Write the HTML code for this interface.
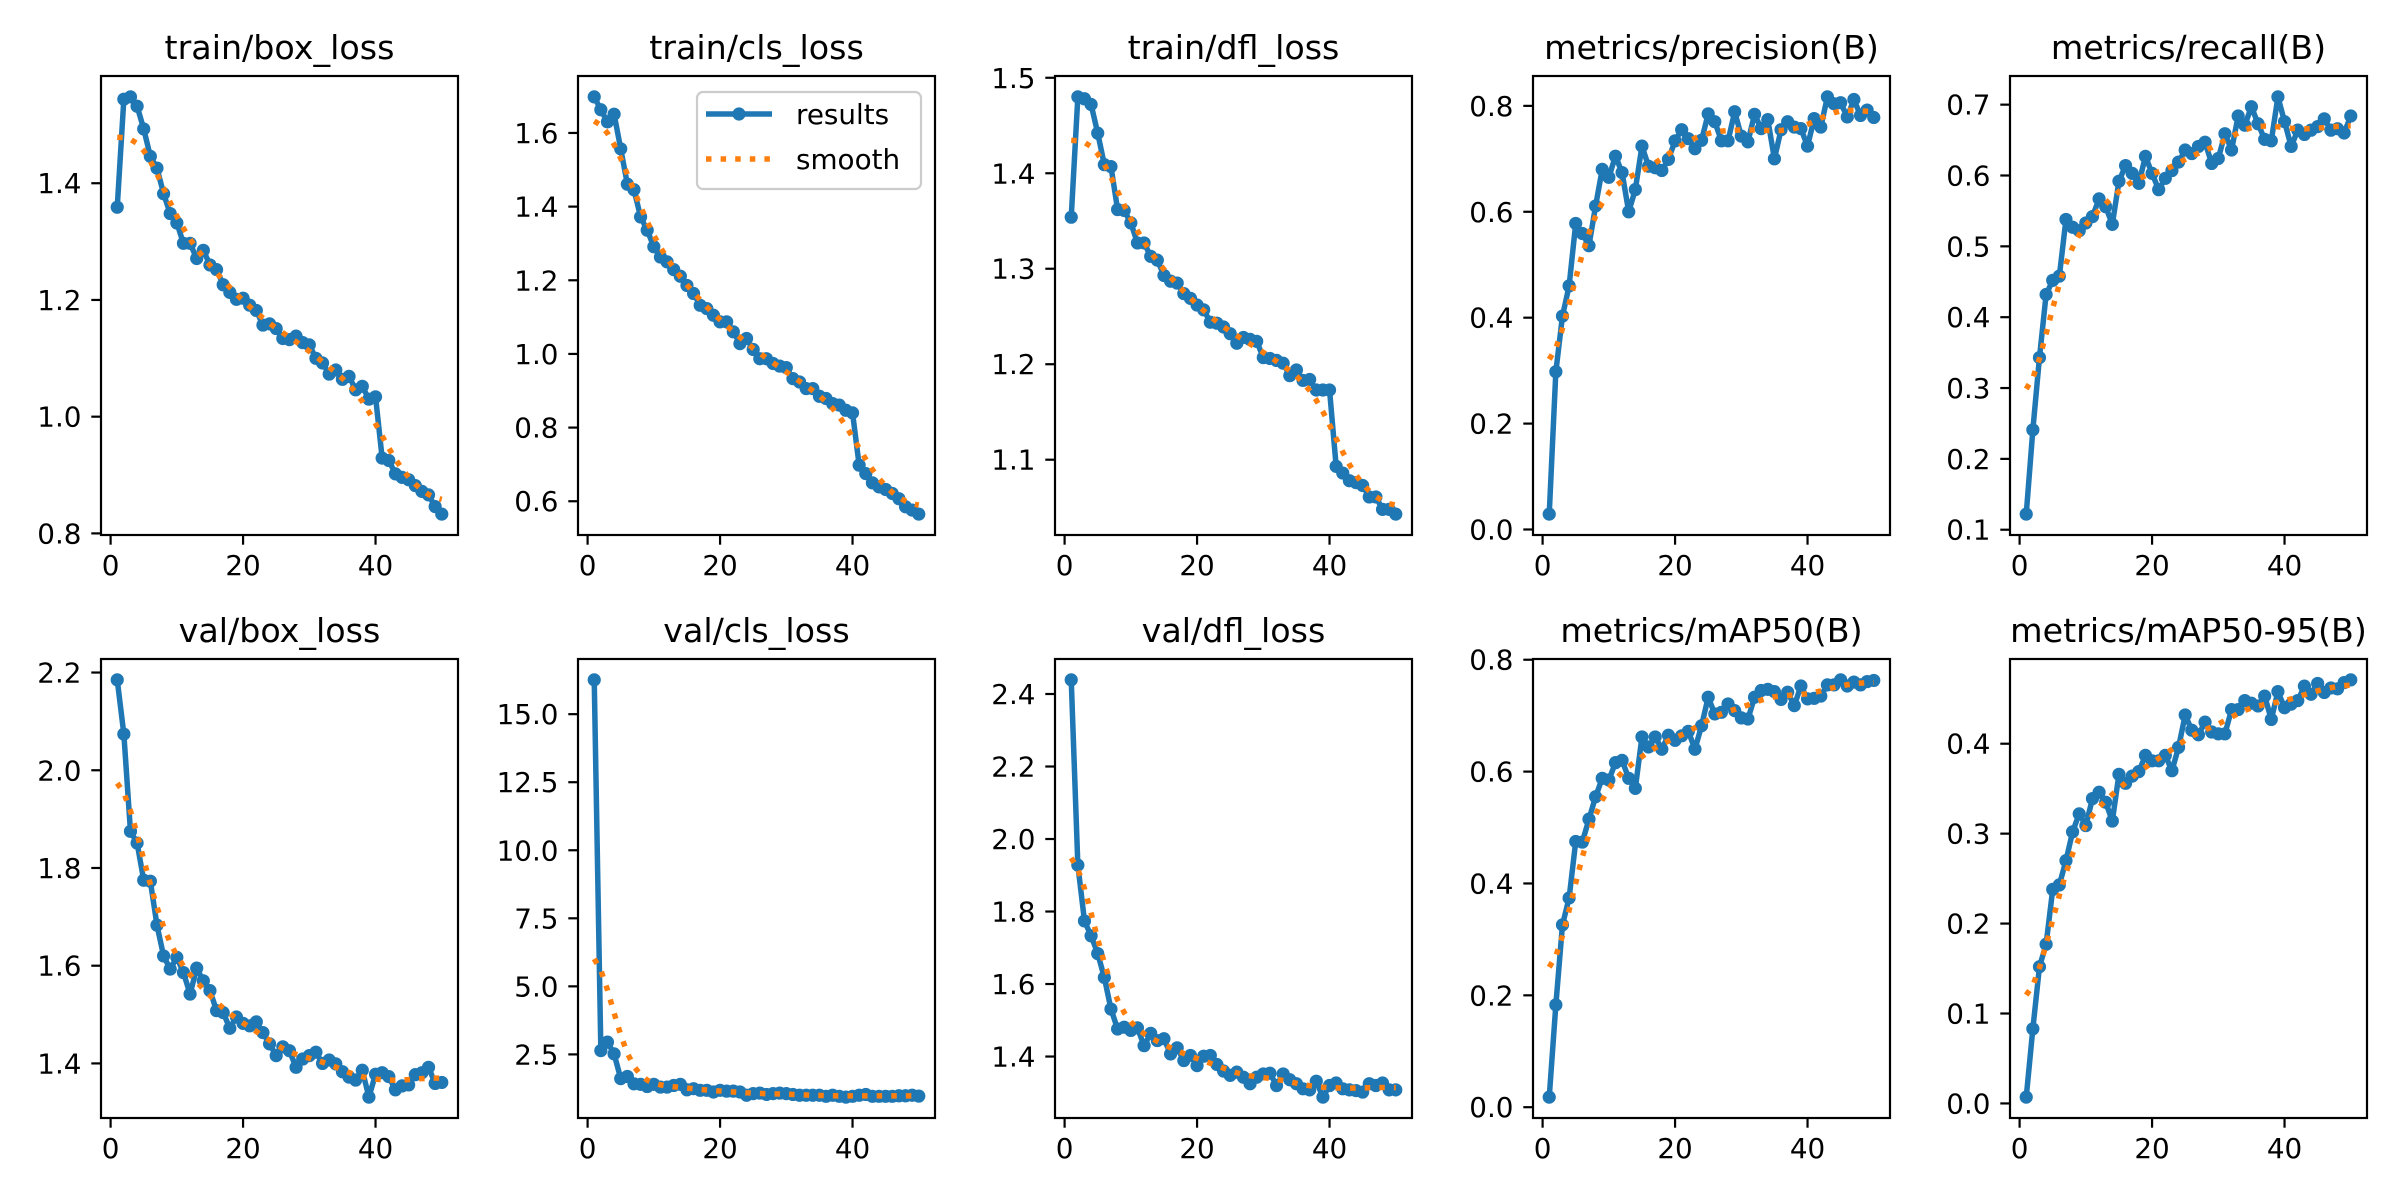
<!DOCTYPE html>
<html><head><meta charset="utf-8">
<style>
html,body{margin:0;padding:0;background:#fff;}
svg{display:block;}
text{font-family:"DejaVu Sans","Liberation Sans",sans-serif;fill:#000;}
</style></head>
<body>
<svg id="fig" xmlns="http://www.w3.org/2000/svg" width="2400" height="1200" viewBox="0 0 2400 1200">
<rect x="0" y="0" width="2400" height="1200" fill="#fff"/>
</svg>
<script>
const panelTitles = ["train/box_loss","train/cls_loss","train/dfl_loss","metrics/precision(B)","metrics/recall(B)","val/box_loss","val/cls_loss","val/dfl_loss","metrics/mAP50(B)","metrics/mAP50-95(B)"];
const xTickValues = [0,20,40];
const trainBoxLoss = [1.359,1.544,1.548,1.532,1.493,1.446,1.426,1.382,1.348,1.332,1.297,1.297,1.271,1.285,1.260,1.252,1.226,1.213,1.201,1.203,1.191,1.182,1.157,1.159,1.151,1.134,1.132,1.138,1.127,1.123,1.100,1.092,1.073,1.080,1.064,1.069,1.046,1.052,1.030,1.034,0.929,0.925,0.902,0.896,0.892,0.882,0.872,0.866,0.846,0.833];
const trainClsLoss = [1.698,1.663,1.630,1.651,1.557,1.461,1.446,1.372,1.336,1.291,1.263,1.250,1.229,1.211,1.186,1.164,1.132,1.123,1.105,1.087,1.087,1.060,1.028,1.042,1.012,0.987,0.987,0.974,0.967,0.963,0.933,0.924,0.906,0.906,0.885,0.879,0.865,0.861,0.847,0.840,0.698,0.675,0.650,0.639,0.632,0.621,0.607,0.585,0.576,0.565];
const trainDflLoss = [1.354,1.480,1.478,1.472,1.442,1.409,1.407,1.362,1.361,1.348,1.327,1.327,1.313,1.309,1.293,1.287,1.285,1.274,1.269,1.262,1.257,1.244,1.243,1.239,1.232,1.222,1.228,1.226,1.224,1.207,1.206,1.204,1.201,1.188,1.194,1.183,1.184,1.173,1.173,1.173,1.093,1.086,1.078,1.076,1.073,1.061,1.061,1.048,1.048,1.043];
const precision = [0.029,0.298,0.403,0.460,0.578,0.559,0.536,0.611,0.680,0.665,0.705,0.674,0.600,0.642,0.724,0.686,0.683,0.678,0.699,0.734,0.755,0.738,0.719,0.735,0.785,0.770,0.734,0.734,0.789,0.743,0.732,0.784,0.757,0.774,0.700,0.755,0.770,0.760,0.757,0.724,0.776,0.760,0.817,0.804,0.806,0.779,0.812,0.782,0.792,0.778];
const recall = [0.122,0.241,0.343,0.432,0.452,0.458,0.538,0.527,0.522,0.533,0.542,0.567,0.556,0.531,0.592,0.614,0.603,0.589,0.627,0.603,0.580,0.596,0.607,0.619,0.636,0.631,0.641,0.647,0.617,0.624,0.659,0.636,0.684,0.671,0.697,0.673,0.651,0.649,0.711,0.676,0.641,0.664,0.658,0.664,0.669,0.680,0.664,0.666,0.660,0.684];
const valBoxLoss = [2.185,2.074,1.875,1.851,1.775,1.773,1.683,1.620,1.593,1.617,1.586,1.542,1.595,1.569,1.549,1.508,1.504,1.472,1.495,1.482,1.477,1.485,1.463,1.440,1.416,1.434,1.426,1.392,1.409,1.416,1.423,1.400,1.407,1.399,1.383,1.372,1.366,1.386,1.331,1.378,1.381,1.373,1.346,1.354,1.356,1.377,1.381,1.392,1.359,1.361];
const valClsLoss = [16.26,2.64,2.95,2.52,1.61,1.69,1.42,1.40,1.32,1.40,1.30,1.30,1.36,1.40,1.20,1.24,1.18,1.18,1.12,1.18,1.15,1.15,1.12,1.00,1.06,1.08,1.03,1.06,1.08,1.06,1.03,1.00,1.00,1.00,1.00,0.96,1.00,0.96,0.93,0.96,1.00,1.03,0.96,0.96,0.96,0.96,0.98,0.98,1.00,0.97];
const valDflLoss = [2.439,1.928,1.774,1.733,1.684,1.618,1.531,1.476,1.481,1.472,1.479,1.430,1.464,1.444,1.449,1.407,1.424,1.389,1.403,1.375,1.401,1.403,1.378,1.360,1.348,1.357,1.343,1.325,1.343,1.352,1.354,1.320,1.352,1.336,1.325,1.311,1.308,1.332,1.288,1.320,1.327,1.311,1.308,1.306,1.302,1.325,1.320,1.327,1.308,1.308];
const mAP50 = [0.018,0.183,0.326,0.374,0.475,0.474,0.515,0.555,0.588,0.585,0.616,0.620,0.588,0.570,0.662,0.644,0.662,0.640,0.665,0.656,0.664,0.672,0.640,0.682,0.733,0.703,0.706,0.721,0.709,0.696,0.694,0.733,0.745,0.747,0.743,0.729,0.742,0.718,0.753,0.730,0.731,0.735,0.755,0.755,0.764,0.753,0.760,0.755,0.761,0.763];
const mAP5095 = [0.007,0.083,0.152,0.177,0.238,0.243,0.270,0.302,0.322,0.309,0.339,0.346,0.335,0.314,0.366,0.356,0.364,0.369,0.387,0.381,0.381,0.387,0.370,0.396,0.432,0.415,0.410,0.424,0.413,0.411,0.411,0.438,0.438,0.448,0.445,0.442,0.453,0.427,0.458,0.440,0.444,0.448,0.464,0.455,0.467,0.457,0.462,0.461,0.468,0.471];
const legendLabels = ["results","smooth"];

const allSeries = [trainBoxLoss,trainClsLoss,trainDflLoss,precision,recall,valBoxLoss,valClsLoss,valDflLoss,mAP50,mAP5095];
const NS = "http://www.w3.org/2000/svg";
const svg = document.getElementById('fig');
const AX_LEFT = [101,578,1055,1533,2010], AX_TOP = [76,659], AX_W = 357, AX_H = 459;
const BLUE = "#1f77b4", ORANGE = "#ff7f0e";

function mk(tag, attrs, parent){
  const e = document.createElementNS(NS, tag);
  for (const k in attrs) e.setAttribute(k, attrs[k]);
  (parent||svg).appendChild(e);
  return e;
}
function gaussSmooth(y, sigma){
  const r = Math.round(4*sigma), w = [];
  let s = 0;
  for (let i=-r;i<=r;i++){ const v=Math.exp(-0.5*i*i/(sigma*sigma)); w.push(v); s+=v; }
  const n = y.length;
  function at(i){ // scipy 'reflect' mode
    while (i<0 || i>=n){ if (i<0) i = -i-1; if (i>=n) i = 2*n-i-1; }
    return y[i];
  }
  return y.map((_,i)=>{ let a=0; for(let k=-r;k<=r;k++) a+=w[k+r]*at(i+k); return a/s; });
}
function niceStep(raw){
  const p = Math.pow(10, Math.floor(Math.log10(raw)));
  const steps = [1,2,2.5,5,10];
  for (const s of steps){ if (s*p >= raw*0.999999) return s*p; }
  return 10*p;
}
function decimalsFor(step){
  for (let d=0; d<6; d++){ const v=step*Math.pow(10,d); if (Math.abs(v-Math.round(v))<1e-6) return d; }
  return 6;
}

allSeries.forEach((vals, idx)=>{
  const row = Math.floor(idx/5), col = idx%5;
  const L = AX_LEFT[col], T = AX_TOP[row], R = L+AX_W, B = T+AX_H;
  const g = mk('g', {});
  
  
  const epochs = vals.map((_,i)=>i+1);
  const smooth = gaussSmooth(vals, 3);
  // x scale
  const xmin0 = 1, xmax0 = vals.length, xm = (xmax0-xmin0)*0.05;
  const xlo = xmin0-xm, xhi = xmax0+xm;
  const xs = v => L + (v-xlo)/(xhi-xlo)*AX_W;
  // y scale
  const both = vals.concat(smooth);
  const dmin = Math.min(...both), dmax = Math.max(...both), ym = (dmax-dmin)*0.05;
  const ylo = dmin-ym, yhi = dmax+ym;
  const ys = v => B - (v-ylo)/(yhi-ylo)*AX_H;

  // title
  const t = mk('text', {x: L+AX_W/2, y: T-17, 'font-size': 33.3, 'text-anchor':'middle'}, g);
  t.textContent = panelTitles[idx];
  
  

  // clip
  const cid = 'clip'+idx;
  const cp = mk('clipPath', {id: cid}, g);
  mk('rect', {x:L, y:T, width:AX_W, height:AX_H}, cp);

  // y ticks
  const step = niceStep((yhi-ylo)/7);
  const dec = decimalsFor(step);
  const tol = (yhi-ylo)*0.002;
  const yg = mk('g', {}, g);
  
  
  for (let v = Math.ceil((ylo-tol)/step)*step; v <= yhi+tol; v += step){
    const py = ys(v);
    mk('line', {x1:L-9.7, x2:L, y1:py, y2:py, stroke:'#000', 'stroke-width':2.2}, yg);
    const lt = mk('text', {x:L-19.5, y:py+10, 'font-size':27.8, 'text-anchor':'end'}, yg);
    lt.textContent = (Math.abs(v)<1e-12?0:v).toFixed(dec);
    
    
  }
  // x ticks
  const xg = mk('g', {}, g);
  
  
  xTickValues.forEach(v=>{
    const px = xs(v);
    mk('line', {x1:px, x2:px, y1:B, y2:B+9.7, stroke:'#000', 'stroke-width':2.2}, xg);
    const lt = mk('text', {x:px, y:B+40, 'font-size':27.8, 'text-anchor':'middle'}, xg);
    lt.textContent = String(v);
    
    
  });

  // results line
  const pts = epochs.map((e,i)=>xs(e).toFixed(2)+','+ys(vals[i]).toFixed(2)).join(' ');
  const plotG = mk('g', {'clip-path':'url(#'+cid+')'}, g);
  const pl = mk('polyline', {points:pts, fill:'none', stroke:BLUE, 'stroke-width':5.5, 'stroke-linejoin':'round', 'stroke-linecap':'square'}, plotG);
  
  
  epochs.forEach((e,i)=>{
    const c = mk('circle', {cx:xs(e), cy:ys(vals[i]), r:6.6, fill:BLUE}, plotG);
    
    
  });
  const spts = epochs.map((e,i)=>xs(e).toFixed(2)+','+ys(smooth[i]).toFixed(2)).join(' ');
  const sl = mk('polyline', {points:spts, fill:'none', stroke:ORANGE, 'stroke-width':5.5, 'stroke-dasharray':'5.5 9.1'}, plotG);
  
  

  // frame
  const fr = mk('rect', {x:L, y:T, width:AX_W, height:AX_H, fill:'none', stroke:'#000', 'stroke-width':2.2}, g);
  
  

  // legend in panel 2
  if (idx === 1){
    const lg = mk('g', {}, g);
    
    
    mk('rect', {x:697, y:92, width:224, height:97, rx:6, ry:6, fill:'#fff', 'fill-opacity':0.8, stroke:'#cccccc', 'stroke-width':2.2}, lg);
    const e1 = mk('g', {}, lg);
    
    
    mk('line', {x1:706, x2:772, y1:114, y2:114, stroke:BLUE, 'stroke-width':5.5}, e1);
    mk('circle', {cx:739, cy:114, r:6.6, fill:BLUE}, e1);
    const t1 = mk('text', {x:796, y:124, 'font-size':27.8}, e1); t1.textContent = legendLabels[0];
    const e2 = mk('g', {}, lg);
    
    
    mk('line', {x1:706, x2:772, y1:159, y2:159, stroke:ORANGE, 'stroke-width':5.5, 'stroke-dasharray':'5.5 9.1'}, e2);
    const t2 = mk('text', {x:796, y:169, 'font-size':27.8}, e2); t2.textContent = legendLabels[1];
  }
});
</script>
</body></html>
